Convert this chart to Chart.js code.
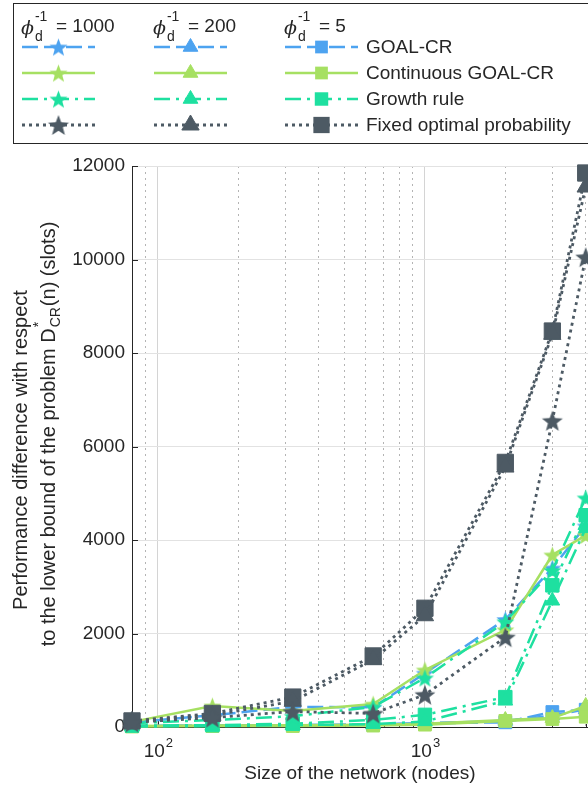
<!DOCTYPE html>
<html>
<head>
<meta charset="utf-8">
<script src="https://cdn.jsdelivr.net/npm/chart.js@4.4.0/dist/chart.umd.min.js"></script>
<style>
html, body { margin: 0; padding: 0; background: #fff; }
</style>
</head>
<body>
<canvas id="chart" width="588" height="786"></canvas>
<script>
// network sizes (x) and the twelve series
let networkSizes = [80, 160, 320, 640, 1000, 2000, 3000, 4000];

let goalCr1000 = [100, 250, 430, 420, 1150, 2300, 3400, 4300];
let goalCr200 = [20, 30, 40, 50, 80, 130, 240, 380];
let goalCr5 = [20, 30, 40, 50, 80, 100, 320, 370];

let contGoalCr1000 = [110, 450, 340, 490, 1220, 2080, 3680, 4100];
let contGoalCr200 = [20, 30, 40, 50, 70, 150, 190, 450];
let contGoalCr5 = [10, 20, 20, 30, 50, 130, 170, 220];

let growth1000 = [80, 150, 230, 430, 1050, 2250, 3350, 4900];
let growth200 = [10, 20, 40, 60, 120, 560, 2700, 4250];
let growth5 = [30, 40, 70, 150, 260, 640, 3030, 4530];

let fixed1000 = [100, 200, 330, 290, 690, 1920, 6550, 10050];
let fixed200 = [120, 250, 550, 1440, 2380, 5560, 8400, 11550];
let fixed5 = [130, 290, 640, 1520, 2540, 5660, 8470, 11850];

let xTickValues = [80, 90, 100, 200, 300, 400, 500, 600, 700, 800, 900, 1000, 2000, 3000, 4000];
let xMajorTicks = [100, 1000];
let xMin = 80, xMax = 4080;
let yMin = 0, yMax = 12000, yStep = 2000;

let phiLabels = ["1000", "200", "5"];
let algoNames = ["GOAL-CR", "Continuous GOAL-CR", "Growth rule", "Fixed optimal probability"];

let FONT = "'Liberation Sans', Arial, Helvetica, sans-serif";
let TEXT = "#262626";

let blue = "#4da3f0";
let lightGreen = "#a6e062";
let teal = "#1ee0a0";
let grey = "#4d5a64";

let dashGoal = [16, 6];
let dashCont = [];
let dashGrowth = [16, 6, 3, 6];
let dashFixed = [3, 4];

function starImage(color, r) {
    let c = document.createElement("canvas");
    let s = Math.ceil(r * 2 + 2);
    c.width = s; c.height = s;
    let g = c.getContext("2d");
    g.translate(s / 2, s / 2 + r * 0.1);
    g.beginPath();
    for (let i = 0; i < 10; i++) {
        let rad = i % 2 === 0 ? r : r * 0.42;
        let a = -Math.PI / 2 + i * Math.PI / 5;
        let px = rad * Math.cos(a), py = rad * Math.sin(a);
        i === 0 ? g.moveTo(px, py) : g.lineTo(px, py);
    }
    g.closePath();
    g.fillStyle = color;
    g.fill();
    return c;
}

function makeSet(label, data, color, dash, marker, radius, width) {
    return {
        label: label,
        data: data,
        borderColor: color,
        backgroundColor: color,
        borderDash: dash,
        borderWidth: width,
        pointStyle: marker,
        pointRadius: radius,
        pointHoverRadius: radius,
        pointBorderWidth: 1,
        pointBorderColor: color,
        pointBackgroundColor: color,
        tension: 0,
        clip: false
    };
}

let starGrey = starImage(grey, 11);
let starTeal = starImage(teal, 9.5);
let starGreen = starImage(lightGreen, 9.5);
let starBlue = starImage(blue, 9.5);

// rows: [GOAL-CR, Continuous, Growth, Fixed], columns: phi 1000, 200, 5
let rows = [
    [makeSet("GOAL-CR 1000", goalCr1000, blue, dashGoal, starBlue, 9, 2.5),
     makeSet("GOAL-CR 200", goalCr200, blue, dashGoal, "triangle", 8.5, 2.5),
     makeSet("GOAL-CR 5", goalCr5, blue, dashGoal, "rect", 9, 2.5)],
    [makeSet("Continuous 1000", contGoalCr1000, lightGreen, dashCont, starGreen, 9, 2.5),
     makeSet("Continuous 200", contGoalCr200, lightGreen, dashCont, "triangle", 8.5, 2.5),
     makeSet("Continuous 5", contGoalCr5, lightGreen, dashCont, "rect", 9, 2.5)],
    [makeSet("Growth 1000", growth1000, teal, dashGrowth, starTeal, 9, 2.5),
     makeSet("Growth 200", growth200, teal, dashGrowth, "triangle", 8.5, 2.5),
     makeSet("Growth 5", growth5, teal, dashGrowth, "rect", 9.5, 2.5)],
    [makeSet("Fixed 1000", fixed1000, grey, dashFixed, starGrey, 11, 2.8),
     makeSet("Fixed 200", fixed200, grey, dashFixed, "triangle", 10, 2.8),
     makeSet("Fixed 5", fixed5, grey, dashFixed, "rect", 11.5, 2.8)]
];

// index 0 is drawn last, so the fixed-probability curves go first (on top)
let datasets = [].concat(rows[3], rows[2], rows[1], rows[0]);

function drawMarker(g, ds, x, y) {
    g.save();
    g.setLineDash([]);
    g.fillStyle = ds.backgroundColor;
    g.strokeStyle = ds.backgroundColor;
    g.lineWidth = 1;
    let r = ds.pointRadius;
    if (ds.pointStyle instanceof HTMLCanvasElement) {
        let w = ds.pointStyle.width, h = ds.pointStyle.height;
        g.drawImage(ds.pointStyle, x - w / 2, y - h / 2);
    } else if (ds.pointStyle === "triangle") {
        g.beginPath();
        for (let i = 0; i < 3; i++) {
            let a = -Math.PI / 2 + i * 2 * Math.PI / 3;
            let px = x + r * Math.cos(a), py = y + r * Math.sin(a);
            i === 0 ? g.moveTo(px, py) : g.lineTo(px, py);
        }
        g.closePath();
        g.fill(); g.stroke();
    } else {
        let s = Math.SQRT1_2 * r;
        g.fillRect(x - s, y - s, 2 * s, 2 * s);
    }
    g.restore();
}

// phi_d^-1 = value header of a legend column
function phiLabel(g, x, y, value) {
    g.save();
    g.fillStyle = TEXT;
    g.textBaseline = "alphabetic";
    g.textAlign = "left";
    g.font = "italic 19px 'DejaVu Serif', serif";
    g.fillText("\u03D5", x, y + 6);
    let w = g.measureText("\u03D5").width;
    g.font = "14px " + FONT;
    g.fillText("-1", x + w + 1, y - 7);
    g.fillText("d", x + w + 1, y + 13);
    g.font = "19px " + FONT;
    g.fillText("= " + value, x + 35, y + 4);
    g.restore();
}

let legendPlugin = {
    id: "customLegend",
    afterDraw(chart) {
        let g = chart.ctx;
        g.save();
        g.strokeStyle = TEXT;
        g.lineWidth = 1;
        g.strokeRect(13.5, 3.5, 620, 140);

        let colX = [22, 154, 285];
        let sampleLen = 73;
        let rowY = [47, 73, 99, 125];

        for (let c = 0; c < 3; c++) {
            phiLabel(g, colX[c] - 1, 28, phiLabels[c]);
        }
        for (let r = 0; r < 4; r++) {
            for (let c = 0; c < 3; c++) {
                let ds = rows[r][c];
                let x0 = colX[c], y = rowY[r];
                g.save();
                g.strokeStyle = ds.borderColor;
                g.lineWidth = ds.borderWidth;
                g.setLineDash(ds.borderDash);
                g.beginPath();
                g.moveTo(x0, y);
                g.lineTo(x0 + sampleLen, y);
                g.stroke();
                g.restore();
                drawMarker(g, ds, x0 + sampleLen / 2, y);
            }
            g.fillStyle = TEXT;
            g.font = "19px " + FONT;
            g.textAlign = "left";
            g.textBaseline = "middle";
            g.fillText(algoNames[r], 366, rowY[r] + 1);
        }
        g.restore();
    }
};

let axisTextPlugin = {
    id: "axisText",
    beforeDatasetsDraw(chart) {
        let g = chart.ctx;
        let xs = chart.scales.x, ys = chart.scales.y;
        let area = chart.chartArea;
        g.save();
        g.strokeStyle = TEXT;
        g.lineWidth = 1;
        g.setLineDash([]);
        // inward tick marks
        ys.ticks.forEach(t => {
            let py = Math.round(ys.getPixelForValue(t.value)) + 0.5;
            g.beginPath(); g.moveTo(area.left, py); g.lineTo(area.left + 6, py); g.stroke();
        });
        xTickValues.forEach(v => {
            let px = Math.round(xs.getPixelForValue(v)) + 0.5;
            let len = xMajorTicks.includes(v) ? 6 : 3;
            g.beginPath(); g.moveTo(px, area.bottom); g.lineTo(px, area.bottom - len); g.stroke();
        });
        g.restore();
    },
    afterDraw(chart) {
        let g = chart.ctx;
        let xs = chart.scales.x;
        let area = chart.chartArea;
        g.save();
        g.fillStyle = TEXT;
        g.textBaseline = "alphabetic";
        g.textAlign = "left";

        // x tick labels 10^2, 10^3
        xMajorTicks.forEach(v => {
            let exp = String(Math.round(Math.log10(v)));
            g.font = "19px " + FONT;
            let wBase = g.measureText("10").width;
            g.font = "13px " + FONT;
            let wExp = g.measureText(exp).width;
            let x0 = xs.getPixelForValue(v) - (wBase + wExp) / 2;
            g.font = "19px " + FONT;
            g.fillText("10", x0, 757);
            g.font = "13px " + FONT;
            g.fillText(exp, x0 + wBase + 1, 747);
        });

        // x title
        g.font = "19px " + FONT;
        g.textAlign = "center";
        g.fillText("Size of the network (nodes)", (area.left + area.right) / 2, 779);

        // y title, two lines, rotated
        g.save();
        g.translate(27, 450);
        g.rotate(-Math.PI / 2);
        g.textAlign = "center";
        g.font = "20px " + FONT;
        g.fillText("Performance difference with respect", 0, 0);
        g.restore();

        g.save();
        g.translate(55, 434);
        g.rotate(-Math.PI / 2);
        g.textAlign = "left";
        let part1 = "to the lower bound of the problem D";
        let part3 = "(n) (slots)";
        g.font = "20px " + FONT;
        let w1 = g.measureText(part1).width;
        let w3 = g.measureText(part3).width;
        g.font = "14px " + FONT;
        let wSub = g.measureText("CR").width;
        let total = w1 + wSub + 2 + w3;
        let x = -total / 2;
        g.font = "20px " + FONT;
        g.fillText(part1, x, 0);
        g.font = "14px " + FONT;
        g.fillText("*", x + w1 + 1, -12);
        g.fillText("CR", x + w1 + 1, 5);
        g.font = "20px " + FONT;
        g.fillText(part3, x + w1 + wSub + 2, 0);
        g.restore();

        g.restore();
    }
};

let chart = new Chart(document.getElementById("chart"), {
    type: "line",
    data: {
        datasets: datasets.map(ds => Object.assign({}, ds, {
            data: ds.data.map((v, i) => ({ x: networkSizes[i], y: v }))
        }))
    },
    options: {
        responsive: false,
        devicePixelRatio: 1,
        animation: false,
        events: [],
        layout: { autoPadding: false, padding: { top: 166, left: 0, right: 0, bottom: 0 } },
        plugins: {
            legend: { display: false },
            tooltip: { enabled: false }
        },
        scales: {
            x: {
                type: "logarithmic",
                min: xMin,
                max: xMax,
                afterBuildTicks: axis => {
                    axis.ticks = xTickValues.map(v => ({ value: v }));
                },
                afterFit: s => { s.height = 59; },
                ticks: { display: false },
                grid: {
                    drawTicks: false,
                    color: c => (c.tick && xMajorTicks.includes(c.tick.value)) ? "#d4d4d4" : "#b4b4b4",
                    lineWidth: 1
                },
                border: {
                    display: true,
                    color: TEXT,
                    width: 1,
                    dash: c => (c.tick && !xMajorTicks.includes(c.tick.value)) ? [2, 4] : []
                }
            },
            y: {
                type: "linear",
                min: yMin,
                max: yMax,
                afterFit: s => { s.width = 132; },
                ticks: {
                    stepSize: yStep,
                    padding: 7,
                    color: TEXT,
                    font: { family: FONT, size: 19 },
                    callback: v => String(v)
                },
                grid: { drawTicks: false, color: "#e2e2e2", lineWidth: 1 },
                border: { display: true, color: TEXT, width: 1 }
            }
        }
    },
    plugins: [legendPlugin, axisTextPlugin]
});
</script>
</body>
</html>
